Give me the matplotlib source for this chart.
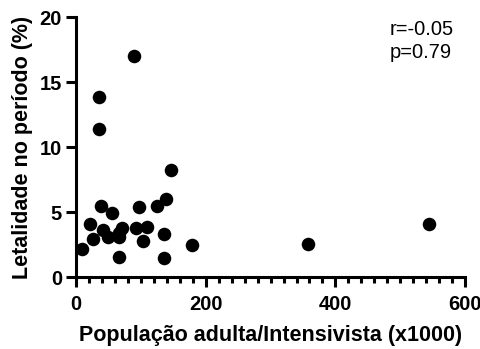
import numpy as np
import matplotlib
matplotlib.use('Agg')
import matplotlib.pyplot as plt
from matplotlib.ticker import MultipleLocator

plt.rcParams['font.family'] = ['Liberation Sans', 'DejaVu Sans']

# population (x1000) vs lethality (%)
pop = [10, 22, 26, 36, 36, 38, 42, 50, 55, 67, 67, 71, 67, 90, 92, 97,
       104, 110, 125, 135, 136, 139, 146, 179, 357, 544]
letal = [2.2, 4.05, 2.9, 13.85, 11.4, 5.45, 3.65, 3.05, 4.95, 3.4, 3.05, 3.8,
         1.55, 17.0, 3.8, 5.4, 2.8, 3.85, 5.5, 3.35, 1.45, 6.0, 8.25, 2.5,
         2.55, 4.05]
stats_text = 'r=-0.05\np=0.79'

fig = plt.figure(figsize=(4.81, 3.49), dpi=100)
ax = fig.add_axes([0.158, 0.206, 0.809, 0.745])
ax.scatter(pop, letal, s=95, color='black', zorder=3, clip_on=False, linewidths=0)

ax.set_xlim(0, 600)
ax.set_ylim(0, 20)
ax.xaxis.set_major_locator(MultipleLocator(200))
ax.xaxis.set_minor_locator(MultipleLocator(20))
ax.yaxis.set_major_locator(MultipleLocator(5))

for s in ['top', 'right']:
    ax.spines[s].set_visible(False)
for s in ['left', 'bottom']:
    ax.spines[s].set_linewidth(2.2)
ax.tick_params(which='major', length=7, width=2.2, labelsize=14.5, pad=3)
ax.tick_params(which='minor', length=4.5, width=2.2)
ax.tick_params(axis='x', which='major', pad=6)
for lab in ax.get_xticklabels() + ax.get_yticklabels():
    lab.set_fontweight('bold')

ax.set_xlabel('População adulta/Intensivista (x1000)', fontsize=15.5,
              fontweight='bold', labelpad=8)
ax.set_ylabel('Letalidade no período (%)', fontsize=15.5, fontweight='bold',
              labelpad=5)
ax.text(0.807, 0.99, stats_text, transform=ax.transAxes, fontsize=14.5,
        va='top', ha='left', linespacing=1.3)

fig.savefig('out.png', dpi=100)
